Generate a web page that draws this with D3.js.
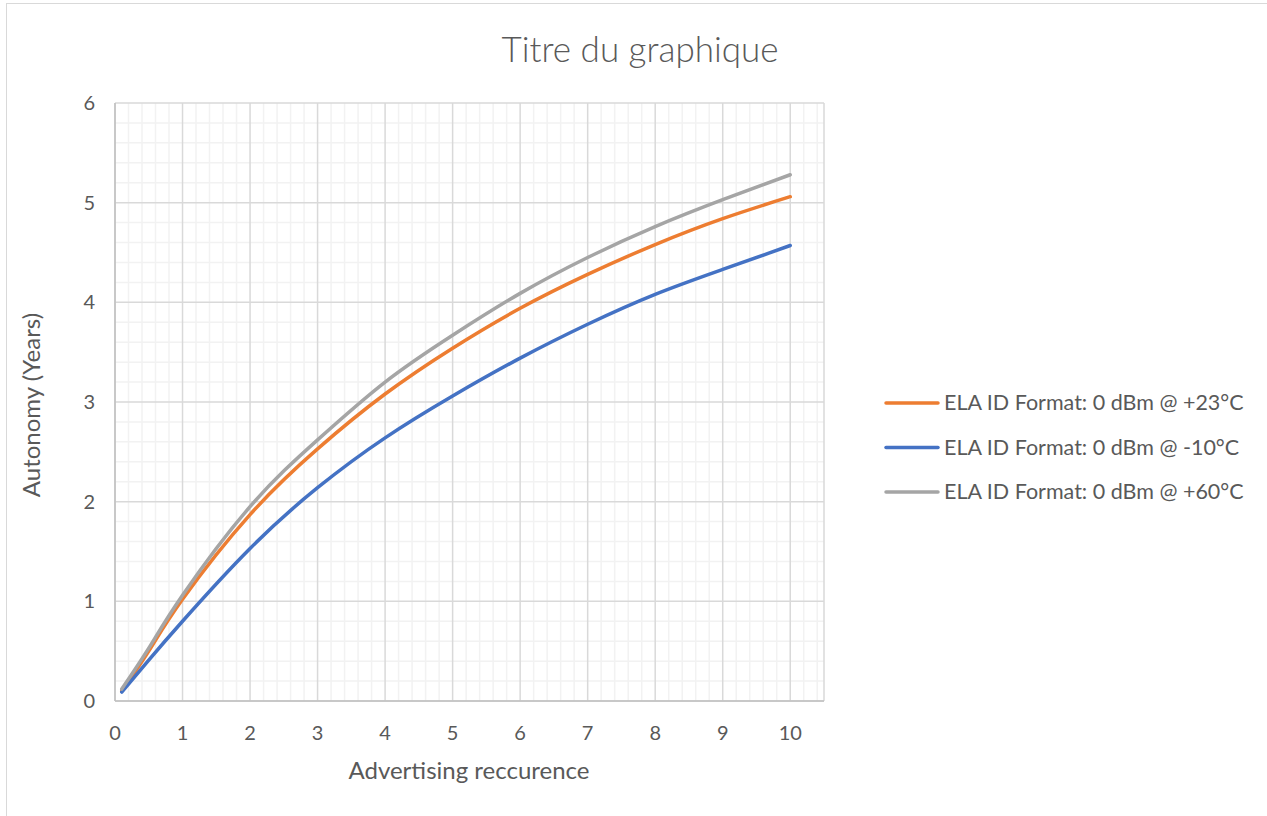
<!DOCTYPE html>
<html>
<head>
<meta charset="utf-8">
<script src="https://d3js.org/d3.v7.min.js"></script>
<style>
  body { margin: 0; background: #fff; }
  text { font-family: Lato, "Open Sans", sans-serif; fill: #595959; }
</style>
</head>
<body>
<script>
// données
const recurrence = [0.1, 0.5, 1, 2, 3, 4, 5, 6, 7, 8, 9, 10];
const autonomy23 = [0.10, 0.50, 1.02, 1.87, 2.53, 3.08, 3.54, 3.94, 4.28, 4.58, 4.84, 5.06];
const autonomyM10 = [0.09, 0.41, 0.80, 1.53, 2.14, 2.64, 3.06, 3.44, 3.78, 4.08, 4.33, 4.57];
const autonomy60 = [0.12, 0.53, 1.06, 1.95, 2.62, 3.20, 3.67, 4.09, 4.45, 4.76, 5.03, 5.28];
const seriesNames = ["ELA ID Format: 0 dBm @ +23°C", "ELA ID Format: 0 dBm @ -10°C", "ELA ID Format: 0 dBm @ +60°C"];
const xTicks = [0, 1, 2, 3, 4, 5, 6, 7, 8, 9, 10];
const yTicks = [0, 1, 2, 3, 4, 5, 6];

const series = [
  { name: seriesNames[0], values: autonomy23, color: "#ED7D31" },
  { name: seriesNames[1], values: autonomyM10, color: "#4472C4" },
  { name: seriesNames[2], values: autonomy60, color: "#A5A5A5" }
];

const width = 1267, height = 816;
const plot = { left: 115, right: 824, top: 103, bottom: 701 };

const svg = d3.select("body").append("svg")
  .attr("width", width)
  .attr("height", height);

// cadre du graphique
svg.append("rect")
  .attr("x", 6.5).attr("y", 3.5)
  .attr("width", width + 10).attr("height", height + 10)
  .attr("fill", "none")
  .attr("stroke", "#d9d9d9");

const x = d3.scaleLinear().domain([0, 10.5]).range([plot.left, plot.right]);
const y = d3.scaleLinear().domain([0, 6]).range([plot.bottom, plot.top]);

// quadrillage secondaire
const minorX = d3.range(0, 10.5 + 1e-9, 0.2).filter(v => Math.abs(v - Math.round(v)) > 1e-6);
const minorY = d3.range(0, 6 + 1e-9, 0.2).filter(v => Math.abs(v - Math.round(v)) > 1e-6);

svg.append("g").selectAll("line")
  .data(minorX)
  .join("line")
  .attr("x1", d => x(d)).attr("x2", d => x(d))
  .attr("y1", plot.top).attr("y2", plot.bottom)
  .attr("stroke", "#f2f2f2").attr("stroke-width", 1.5);

svg.append("g").selectAll("line")
  .data(minorY)
  .join("line")
  .attr("x1", plot.left).attr("x2", plot.right)
  .attr("y1", d => y(d)).attr("y2", d => y(d))
  .attr("stroke", "#f2f2f2").attr("stroke-width", 1.5);

// quadrillage principal
svg.append("g").selectAll("line")
  .data(xTicks.concat([10.5]))
  .join("line")
  .attr("x1", d => x(d)).attr("x2", d => x(d))
  .attr("y1", plot.top).attr("y2", plot.bottom)
  .attr("stroke", "#d9d9d9").attr("stroke-width", 1.5);

svg.append("g").selectAll("line")
  .data(yTicks)
  .join("line")
  .attr("x1", plot.left).attr("x2", plot.right)
  .attr("y1", d => y(d)).attr("y2", d => y(d))
  .attr("stroke", "#d9d9d9").attr("stroke-width", 1.5);

// axes
svg.append("line")
  .attr("x1", plot.left).attr("x2", plot.right)
  .attr("y1", plot.bottom).attr("y2", plot.bottom)
  .attr("stroke", "#bfbfbf").attr("stroke-width", 1.5);
svg.append("line")
  .attr("x1", plot.left).attr("x2", plot.left)
  .attr("y1", plot.top).attr("y2", plot.bottom)
  .attr("stroke", "#bfbfbf").attr("stroke-width", 1.5);

svg.append("g").selectAll("text")
  .data(xTicks)
  .join("text")
  .attr("x", d => x(d))
  .attr("y", plot.bottom + 39)
  .attr("text-anchor", "middle")
  .style("font-size", "20px")
  .text(d => d);

svg.append("g").selectAll("text")
  .data(yTicks)
  .join("text")
  .attr("x", plot.left - 20)
  .attr("y", d => y(d) + 7)
  .attr("text-anchor", "end")
  .style("font-size", "20px")
  .text(d => d);

// courbes
const line = d3.line()
  .x((d, i) => x(recurrence[i]))
  .y(d => y(d))
  .curve(d3.curveNatural);

svg.append("g").selectAll("path")
  .data(series)
  .join("path")
  .attr("d", d => line(d.values))
  .attr("fill", "none")
  .attr("stroke", d => d.color)
  .attr("stroke-width", 3.5)
  .attr("stroke-linecap", "round");

// titres
svg.append("text")
  .attr("x", 640).attr("y", 62)
  .attr("text-anchor", "middle")
  .style("font-size", "35px")
  .style("font-weight", 300)
  .text("Titre du graphique");

svg.append("text")
  .attr("x", 469).attr("y", 779)
  .attr("text-anchor", "middle")
  .style("font-size", "24px")
  .text("Advertising reccurence");

svg.append("text")
  .attr("transform", "translate(40,405) rotate(-90)")
  .attr("text-anchor", "middle")
  .style("font-size", "24px")
  .text("Autonomy (Years)");

// légende
const legend = svg.append("g").selectAll("g")
  .data(series)
  .join("g")
  .attr("transform", (d, i) => `translate(886,${403 + i * 44.5})`);

legend.append("line")
  .attr("x1", 0).attr("x2", 52)
  .attr("stroke", d => d.color)
  .attr("stroke-width", 3.5)
  .attr("stroke-linecap", "round");

legend.append("text")
  .attr("x", 58).attr("y", 7)
  .style("font-size", "21.5px")
  .text(d => d.name);
</script>
</body>
</html>
